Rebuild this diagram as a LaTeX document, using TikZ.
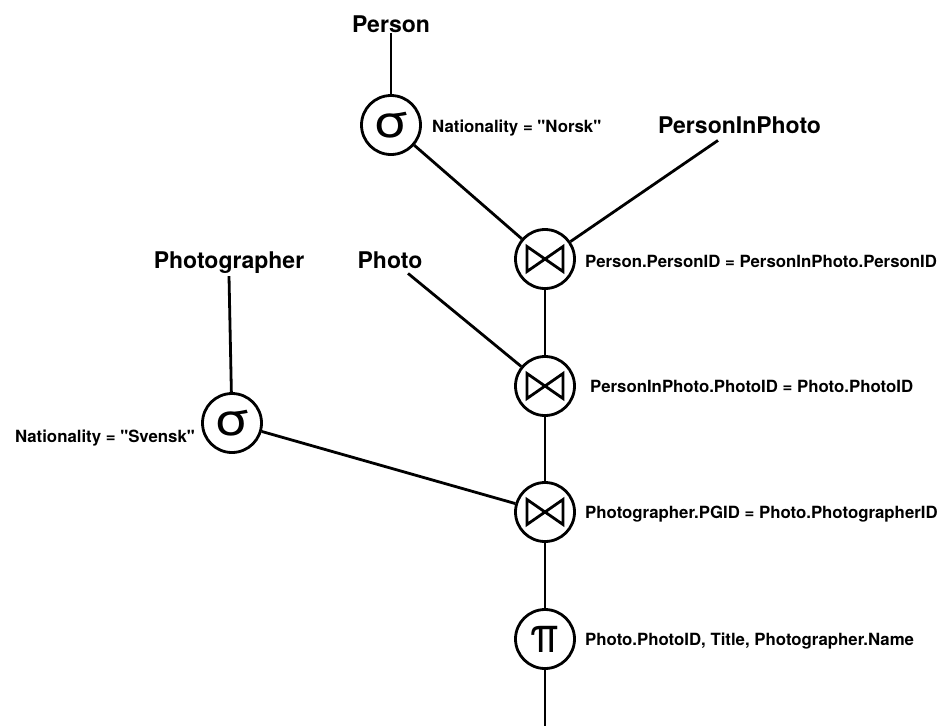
\documentclass[tikz,border=0pt]{standalone}
\usepackage{fontspec}
\setmainfont{TeX Gyre Heros}[Ligatures=TeXOff]
\tikzset{
  op/.style={circle, draw, line width=2.8pt, minimum size=59pt, inner sep=0pt},
  greek/.style={font=\fontsize{44}{44}\selectfont},
  rel/.style={font=\fontsize{23}{26}\selectfont\bfseries, inner sep=1pt},
  cond/.style={font=\fontsize{16.8}{19}\selectfont\bfseries, inner sep=0pt},
  edge/.style={line width=2.8pt},
  bow/.style={line width=2.8pt, line join=miter},
}
% bow-tie join symbol drawn inside a named operator node
\newcommand\joinmark[1]{%
  \draw[bow] ([shift={(-18,-12.5)}]#1.center) -- ([shift={(-18,12.5)}]#1.center)
    -- ([shift={(18,-12.5)}]#1.center) -- ([shift={(18,12.5)}]#1.center) -- cycle;}
\newcommand\selsym{\raisebox{-2pt}{\scalebox{1.25}[1]{σ}}}
\newcommand\projsym{\raisebox{-1pt}{\scalebox{0.85}[1]{π}}}
\begin{document}
\begin{tikzpicture}[x=1pt,y=-1pt]
\useasboundingbox (0,0) rectangle (939,726);

% relations
\node[rel, anchor=base] (person) at (391,32) {Person};
\node[rel, anchor=base] (pip) at (739.5,133) {PersonInPhoto};
\node[rel, anchor=base] (pg) at (229,268) {Photographer};
\node[rel, anchor=base] (photo) at (390,268) {Photo};

% operators
\node[op, greek] (s1) at (391,125) {\selsym};
\node[op] (j1) at (545,259) {};
\node[op] (j2) at (545,386) {};
\node[op, greek] (s2) at (232,423) {\selsym};
\node[op] (j3) at (545,512) {};
\node[op, font=\fontsize{50}{50}\selectfont] (pi) at (545,639) {\projsym};
\coordinate (out) at (545,726);
\joinmark{j1}
\joinmark{j2}
\joinmark{j3}

% conditions
\node[cond, anchor=base west] (c1) at (432,132) {Nationality = "Norsk"};
\node[cond, anchor=base west] (c2) at (585,267) {Person.PersonID = PersonInPhoto.PersonID};
\node[cond, anchor=base west] (c3) at (590,392) {PersonInPhoto.PhotoID = Photo.PhotoID};
\node[cond, anchor=base east] (c4) at (195,442) {Nationality = "Svensk"};
\node[cond, anchor=base west] (c5) at (585,518) {Photographer.PGID = Photo.PhotographerID};
\node[cond, anchor=base west] (c6) at (585,645) {Photo.PhotoID, Title, Photographer.Name};

% tree edges
\draw[edge] (person.south) -- (s1);
\draw[edge] (s1) -- (j1);
\draw[edge] ([xshift=-21.5pt,yshift=-6pt]pip.south) -- (j1);
\draw[edge] (j1) -- (j2);
\draw[edge] ([xshift=18pt,yshift=-4pt]photo.south) -- (j2);
\draw[edge] ([yshift=-2pt]pg.south) -- (s2);
\draw[edge] (s2) -- (j3);
\draw[edge] (j2) -- (j3);
\draw[edge] (j3) -- (pi);
\draw[edge] (pi) -- (out);
\end{tikzpicture}
\end{document}
